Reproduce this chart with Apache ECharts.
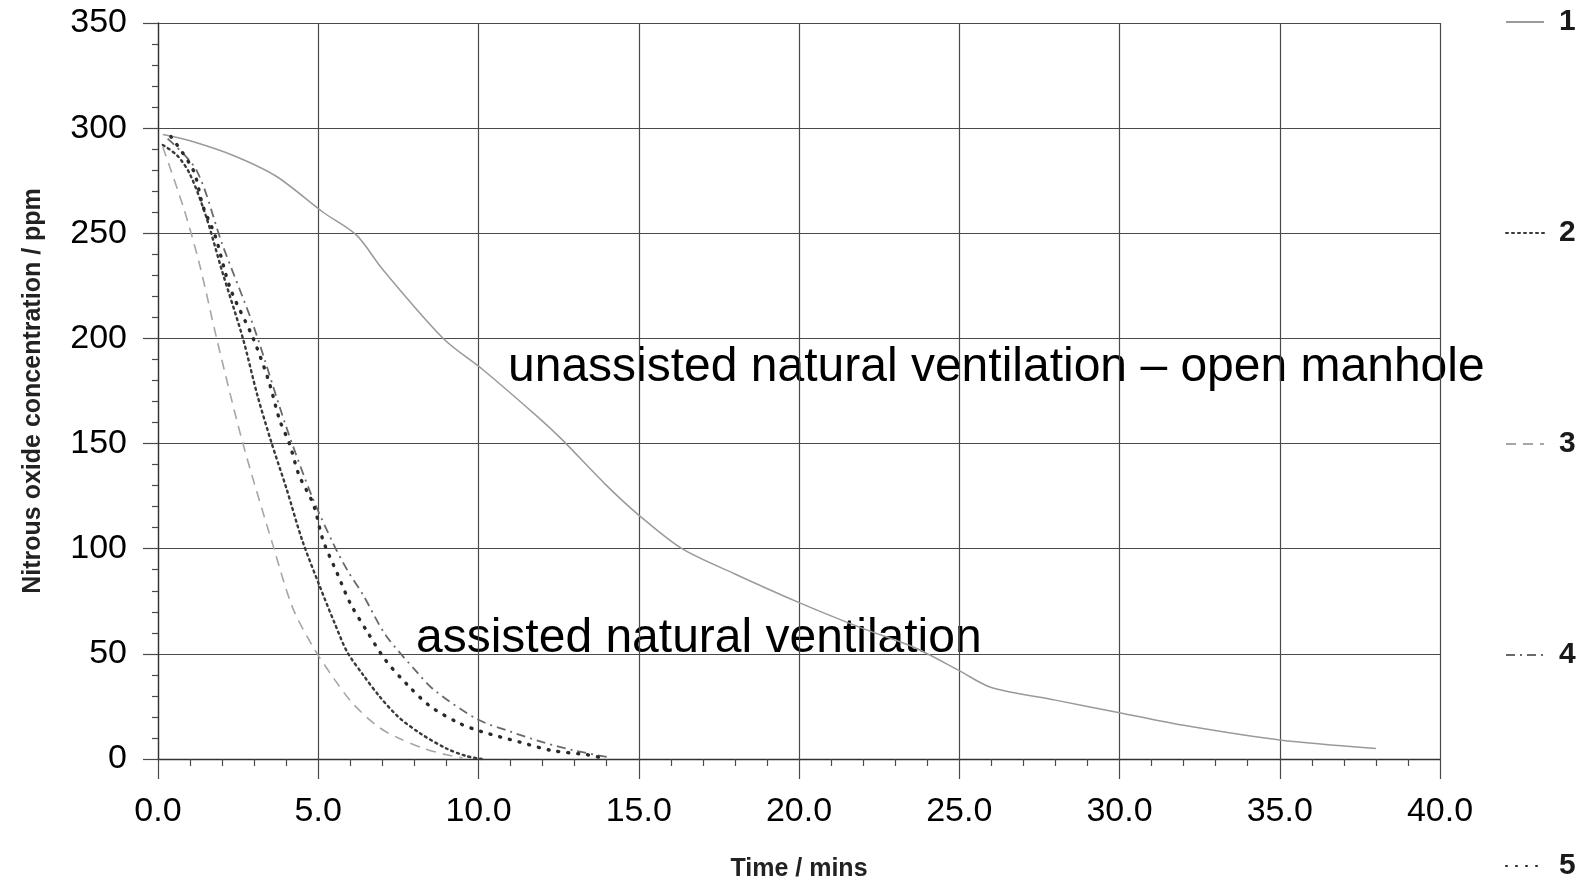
<!DOCTYPE html>
<html>
<head>
<meta charset="utf-8">
<script src="https://cdn.jsdelivr.net/npm/echarts@6/dist/echarts.min.js"></script>
<style>
  html, body { margin: 0; padding: 0; background: #fff; }
  #chart { width: 1591px; height: 887px; }
</style>
</head>
<body>
<div id="chart"></div>
<script>
// time (mins) / N2O (ppm), one pair of arrays per run
var time1 = [0.15, 1.0, 2.35, 3.7, 5.15, 6.2, 7.0, 8.9, 10.15, 11.9, 12.6, 14.0, 15.0, 16.35, 18.0, 20.06, 22.0, 23.6, 25.0, 26.0, 28.0, 30.0, 32.0, 35.0, 38.0]
var conc1 = [297, 294, 287, 277, 260, 249, 233, 200, 185, 162, 152, 130, 116, 100, 88, 74, 62, 53, 42, 34, 28, 22, 16, 9, 5]

var time2 = [0.15, 0.6, 1.0, 1.5, 2.0, 2.65, 3.1, 3.55, 4.0, 4.5, 5.05, 5.5, 5.9, 6.4, 6.9, 7.5, 8.2, 9.0, 9.6, 10.1]
var conc2 = [292, 287, 278, 258, 232, 200, 173, 150, 129, 104, 82, 65, 51, 40, 30, 20, 12, 5, 1.5, 0]

var time3 = [0.15, 0.8, 1.3, 1.83, 2.65, 3.6, 4.2, 4.85, 5.5, 6.1, 6.9, 7.5, 8.3, 9.0, 9.5]
var conc3 = [291, 262, 235, 200, 150, 101, 72, 53, 38, 26, 15, 10, 5, 2, 0.5]

var time4 = [0.3, 1.2, 2.0, 3.0, 4.0, 4.8, 5.45, 5.9, 6.4, 7.1, 8.1, 8.6, 9.95, 11.0, 12.0, 13.0, 14.0]
var conc4 = [295, 280, 245, 205, 158, 125, 103, 90, 78, 59, 41, 33, 19, 13, 8, 4, 1]

var time5 = [0.4, 1.1, 1.4, 1.78, 2.25, 2.97, 3.45, 3.8, 4.1, 4.4, 4.85, 5.15, 5.6, 6.0, 6.55, 7.1, 7.8, 8.5, 9.4, 10.1, 11.3, 12.3, 13.4, 14.0]
var conc5 = [296, 280, 263, 249, 224, 200, 180, 161, 150, 135, 121, 104, 88, 74, 60, 47, 35, 25, 17, 13, 8, 4, 2, 0]

var runNames = ['1', '2', '3', '4', '5']
var xTicks = [0, 5, 10, 15, 20, 25, 30, 35, 40]
var yTicks = [0, 50, 100, 150, 200, 250, 300, 350]

function pairs(t, c) {
    return t.map(function (v, i) { return [v, c[i]] })
}

var runs = [
    { t: time1, c: conc1, color: '#9a9a9a', width: 1.5, type: 'solid', cap: 'butt' },
    { t: time2, c: conc2, color: '#3a3a3a', width: 2.4, type: [2, 4], cap: 'round' },
    { t: time3, c: conc3, color: '#a6a6a6', width: 1.6, type: [10, 7], cap: 'butt' },
    { t: time4, c: conc4, color: '#6a6a6a', width: 1.8, type: [9, 5, 2, 5], cap: 'butt' },
    { t: time5, c: conc5, color: '#2a2a2a', width: 3.4, type: [1, 9], cap: 'round' }
]

var series = runs.map(function (r, i) {
    return {
        name: runNames[i],
        type: 'line',
        data: pairs(r.t, r.c),
        showSymbol: false,
        symbol: 'none',
        smooth: 0.3,
        silent: true,
        z: 3,
        lineStyle: { color: r.color, width: r.width, type: r.type, cap: r.cap },
        itemStyle: { color: r.color }
    }
})

var font = '"Liberation Sans", Arial, sans-serif'
var gridColor = '#4a4a4a'

var chart = echarts.init(document.getElementById('chart'))
chart.setOption({
    animation: false,
    backgroundColor: '#fff',
    grid: { left: 158, right: 151, top: 23, bottom: 124 },
    xAxis: {
        type: 'value',
        min: xTicks[0],
        max: xTicks[xTicks.length - 1],
        interval: 5,
        name: 'Time / mins',
        nameLocation: 'middle',
        nameGap: 98,
        nameTextStyle: { fontFamily: font, fontSize: 25, fontWeight: 'bold', color: '#222' },
        axisLine: { show: true, lineStyle: { color: '#333', width: 1.3 } },
        axisTick: { show: true, length: 20, lineStyle: { color: gridColor, width: 1.2 } },
        minorTick: { show: true, splitNumber: 5, length: 7, lineStyle: { color: gridColor, width: 1.2 } },
        axisLabel: {
            margin: 36,
            fontFamily: font,
            fontSize: 34,
            color: '#000',
            formatter: function (v) { return v.toFixed(1) }
        },
        splitLine: { show: true, lineStyle: { color: gridColor, width: 1.2 } }
    },
    yAxis: {
        type: 'value',
        min: yTicks[0],
        max: yTicks[yTicks.length - 1],
        interval: 50,
        name: 'Nitrous oxide concentration / ppm',
        nameLocation: 'middle',
        nameGap: 112,
        nameRotate: 90,
        nameTextStyle: { fontFamily: font, fontSize: 25, fontWeight: 'bold', color: '#222' },
        axisLine: { show: true, lineStyle: { color: '#333', width: 1.3 } },
        axisTick: { show: true, length: 15, lineStyle: { color: gridColor, width: 1.2 } },
        minorTick: { show: true, splitNumber: 5, length: 6, lineStyle: { color: gridColor, width: 1.2 } },
        axisLabel: { margin: 31, fontFamily: font, fontSize: 34, color: '#000' },
        splitLine: { show: true, lineStyle: { color: gridColor, width: 1.2 } }
    },
    legend: {
        orient: 'vertical',
        left: 1505,
        top: 7,
        padding: 0,
        itemWidth: 38,
        itemHeight: 12,
        itemGap: 181,
        selectedMode: false,
        data: runNames,
        itemStyle: { opacity: 0 },
        textStyle: { fontFamily: font, fontSize: 30, fontWeight: 'bold', color: '#1a1a1a', lineHeight: 30, padding: [0, 0, 0, 10] }
    },
    graphic: [
        {
            type: 'text',
            left: 508,
            top: 344,
            style: { text: 'unassisted natural ventilation \u2013 open manhole', font: '48px ' + font, fill: '#000' }
        },
        {
            type: 'text',
            left: 416,
            top: 615,
            style: { text: 'assisted natural ventilation', font: '48px ' + font, fill: '#000' }
        }
    ],
    series: series
})
</script>
</body>
</html>
